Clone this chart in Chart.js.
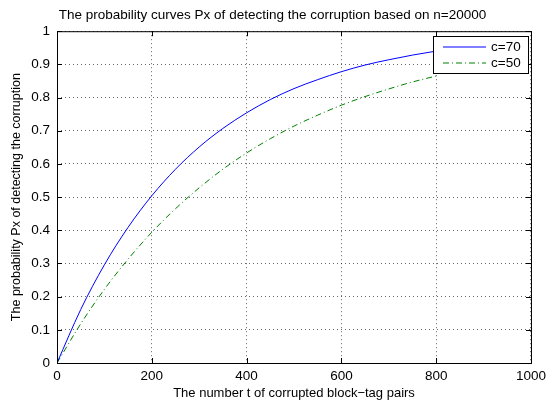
<!DOCTYPE html>
<html>
<head>
<meta charset="utf-8">
<script src="https://cdn.jsdelivr.net/npm/chart.js@4/dist/chart.umd.min.js"></script>
<style>
  html, body { margin: 0; padding: 0; background: #fff; }
  #wrap { width: 551px; height: 401px; }
</style>
</head>
<body>
<div id="wrap"><canvas id="chart" width="551" height="401"></canvas></div>
<script>
// =====================
// DATA
// =====================
const tValues = [0, 50, 100, 150, 200, 250, 300, 350, 400, 450, 500, 550, 600, 650, 700, 750, 800];
const pC70 = [0, 0.161, 0.296, 0.409, 0.504, 0.584, 0.651, 0.707, 0.754, 0.794, 0.827, 0.854, 0.878, 0.898, 0.914, 0.928, 0.940];
const pC50 = [0, 0.118, 0.222, 0.313, 0.394, 0.465, 0.528, 0.584, 0.633, 0.676, 0.714, 0.747, 0.777, 0.803, 0.826, 0.847, 0.865];
const seriesNames = ["c=70", "c=50"];
const seriesColors = ["rgb(0,0,255)", "rgb(0,128,0)"];
const seriesDash = [[], [6, 3, 1, 3]];
const xTicks = [0, 200, 400, 600, 800, 1000];
const yTicks = [0, 0.1, 0.2, 0.3, 0.4, 0.5, 0.6, 0.7, 0.8, 0.9, 1];

const FONT = "'Liberation Sans', Arial, Helvetica, sans-serif";

function toPoints(xs, ys) {
  return xs.map((x, i) => ({ x: x, y: ys[i] }));
}

// =====================
// FRAME + INWARD TICKS (matlab box style)
// =====================
const framePlugin = {
  id: "frame",
  afterDatasetsDraw(chart) {
    const { ctx, chartArea: a, scales } = chart;
    ctx.save();
    ctx.strokeStyle = "#000";
    ctx.lineWidth = 1;
    ctx.setLineDash([]);
    ctx.strokeRect(a.left + 0.5, a.top + 0.5, a.right - a.left, a.bottom - a.top);
    ctx.beginPath();
    xTicks.forEach(v => {
      const px = Math.round(scales.x.getPixelForValue(v)) + 0.5;
      ctx.moveTo(px, a.bottom); ctx.lineTo(px, a.bottom - 5);
      ctx.moveTo(px, a.top); ctx.lineTo(px, a.top + 5);
    });
    yTicks.forEach(v => {
      const py = Math.round(scales.y.getPixelForValue(v)) + 0.5;
      ctx.moveTo(a.left, py); ctx.lineTo(a.left + 5, py);
      ctx.moveTo(a.right, py); ctx.lineTo(a.right - 5, py);
    });
    ctx.stroke();
    ctx.restore();
  }
};

// =====================
// LEGEND BOX (top right, inside plot)
// =====================
const legendBoxPlugin = {
  id: "legendBox",
  afterDraw(chart) {
    const { ctx } = chart;
    const left = 433, top = 36, w = 95, h = 37;
    ctx.save();
    ctx.fillStyle = "#fff";
    ctx.fillRect(left, top, w, h);
    ctx.strokeStyle = "#000";
    ctx.lineWidth = 1;
    ctx.setLineDash([]);
    ctx.strokeRect(left + 0.5, top + 0.5, w, h);
    ctx.font = "13.5px " + FONT;
    ctx.textBaseline = "middle";
    ctx.textAlign = "left";
    for (let i = 0; i < seriesNames.length; i++) {
      const y = top + 11 + i * 16;
      ctx.beginPath();
      ctx.lineWidth = 1.2;
      ctx.strokeStyle = seriesColors[i];
      ctx.setLineDash(seriesDash[i]);
      ctx.moveTo(443, y);
      ctx.lineTo(486, y);
      ctx.stroke();
      ctx.fillStyle = "#000";
      ctx.fillText(seriesNames[i], 491, y);
    }
    ctx.restore();
  }
};

const chart = new Chart(document.getElementById("chart"), {
  type: "line",
  data: {
    datasets: [
      {
        label: seriesNames[0],
        data: toPoints(tValues, pC70),
        borderColor: seriesColors[0],
        borderWidth: 1,
        borderDash: seriesDash[0],
        pointRadius: 0,
        cubicInterpolationMode: "monotone",
        fill: false
      },
      {
        label: seriesNames[1],
        data: toPoints(tValues, pC50),
        borderColor: seriesColors[1],
        borderWidth: 1,
        borderDash: seriesDash[1],
        pointRadius: 0,
        cubicInterpolationMode: "monotone",
        fill: false
      }
    ]
  },
  options: {
    responsive: false,
    animation: false,
    devicePixelRatio: 1,
    layout: { padding: { left: 9, right: 15, top: 0, bottom: 0 } },
    plugins: {
      legend: { display: false },
      tooltip: { enabled: false },
      title: {
        display: true,
        text: "The probability curves Px of detecting the corruption based on n=20000",
        color: "#000",
        font: { family: FONT, size: 13.5, weight: "normal" },
        padding: { top: 7, bottom: 8 }
      }
    },
    scales: {
      x: {
        type: "linear",
        min: 0,
        max: 1000,
        afterBuildTicks: s => { s.ticks = xTicks.map(v => ({ value: v })); },
        afterFit: s => { s.height = 38; },
        border: { display: false, dash: [1, 3] },
        grid: {
          color: "rgba(0,0,0,0.6)",
          lineWidth: 1,
          drawTicks: false
        },
        ticks: {
          color: "#000",
          padding: 5,
          maxRotation: 0,
          font: { family: FONT, size: 13.5 },
          callback: v => String(v)
        },
        title: {
          display: true,
          text: "The number t of corrupted block\u2212tag pairs",
          color: "#000",
          padding: { top: 0, bottom: 0 },
          font: { family: FONT, size: 13 }
        }
      },
      y: {
        type: "linear",
        min: 0,
        max: 1,
        afterBuildTicks: s => { s.ticks = yTicks.map(v => ({ value: v })); },
        afterFit: s => { s.width = 48; },
        border: { display: false, dash: [1, 3] },
        grid: {
          color: "rgba(0,0,0,0.6)",
          lineWidth: 1,
          drawTicks: false
        },
        ticks: {
          color: "#000",
          padding: 7,
          font: { family: FONT, size: 13.5 },
          callback: v => String(v)
        },
        title: {
          display: true,
          text: "The probability Px of detecting the corruption",
          color: "#000",
          padding: { top: 0, bottom: 0 },
          font: { family: FONT, size: 12.5 }
        }
      }
    }
  },
  plugins: [framePlugin, legendBoxPlugin]
});
</script>
</body>
</html>
